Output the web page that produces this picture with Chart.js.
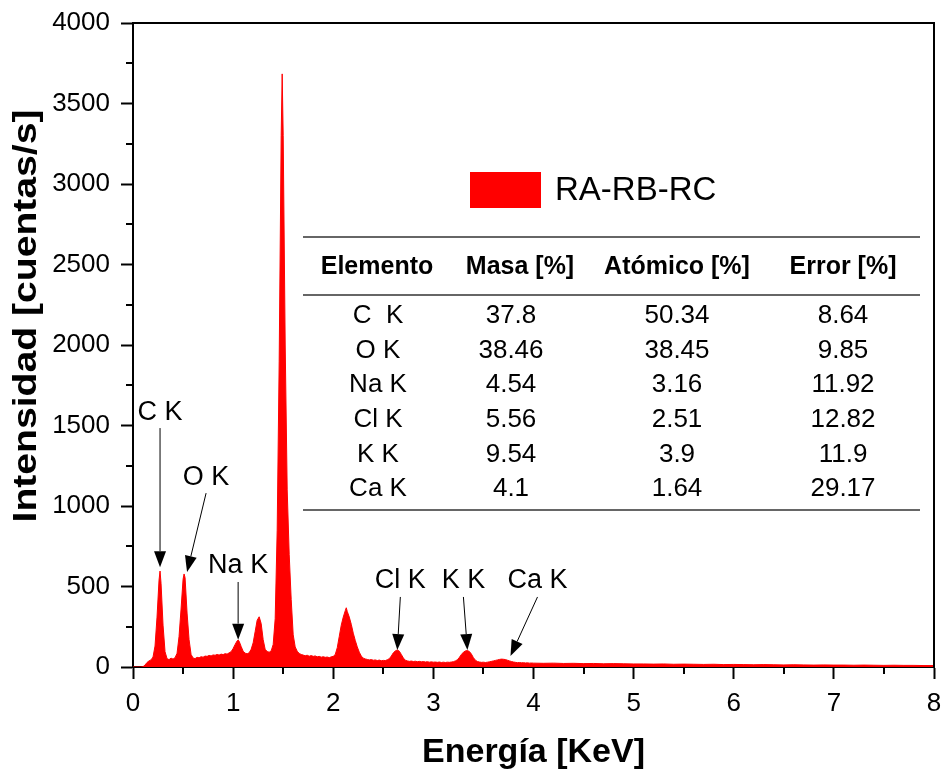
<!DOCTYPE html>
<html>
<head>
<meta charset="utf-8">
<script src="https://cdn.jsdelivr.net/npm/chart.js@4"></script>
<style>
  html, body { margin: 0; padding: 0; background: #fff; }
</style>
</head>
<body>
<canvas id="edsChart" width="943" height="770"></canvas>
<script>
// EDS spectrum (energy in keV, counts/s)
const energy = [
  0.00, 0.02, 0.04, 0.06, 0.08, 0.10, 0.12, 0.14, 0.16, 0.18,
  0.20, 0.22, 0.24, 0.26, 0.27, 0.28, 0.30, 0.32, 0.34, 0.36, 0.38,
  0.40, 0.42, 0.44, 0.46, 0.48, 0.50, 0.51, 0.52, 0.54, 0.56, 0.58,
  0.60, 0.62, 0.64, 0.66, 0.68, 0.70, 0.72, 0.74, 0.76, 0.78,
  0.80, 0.82, 0.84, 0.86, 0.88, 0.90, 0.92, 0.94, 0.96, 0.98,
  1.00, 1.02, 1.04, 1.05, 1.06, 1.08, 1.10, 1.12, 1.14, 1.16, 1.18,
  1.20, 1.22, 1.24, 1.26, 1.28, 1.30, 1.32, 1.34, 1.36, 1.38,
  1.40, 1.42, 1.44, 1.46, 1.48, 1.49, 1.50, 1.52, 1.54, 1.56, 1.58,
  1.60, 1.62, 1.64, 1.66, 1.68, 1.70, 1.72, 1.74, 1.76, 1.78,
  1.80, 1.82, 1.84, 1.86, 1.88, 1.90, 1.92, 1.94, 1.96, 1.98,
  2.00, 2.02, 2.04, 2.06, 2.08, 2.10, 2.12, 2.13, 2.14, 2.16, 2.18,
  2.20, 2.22, 2.24, 2.26, 2.28, 2.30, 2.32, 2.34, 2.36, 2.38,
  2.40, 2.42, 2.44, 2.46, 2.48, 2.50, 2.52, 2.54, 2.56, 2.58,
  2.60, 2.62, 2.64, 2.66, 2.68, 2.70, 2.72, 2.74, 2.76, 2.78,
  2.80, 2.82, 2.84, 2.86, 2.88, 2.90, 2.92, 2.94, 2.96, 2.98,
  3.00, 3.02, 3.04, 3.06, 3.08, 3.10, 3.12, 3.14, 3.16, 3.18,
  3.20, 3.22, 3.24, 3.26, 3.28, 3.30, 3.32, 3.34, 3.36, 3.38,
  3.40, 3.42, 3.44, 3.46, 3.48, 3.50, 3.52, 3.54, 3.56, 3.58,
  3.60, 3.62, 3.64, 3.66, 3.68, 3.70, 3.72, 3.74, 3.76, 3.78,
  3.80, 3.82, 3.84, 3.86, 3.88, 3.90, 3.92, 3.94, 3.96, 3.98,
  4.0, 4.1, 4.2, 4.3, 4.4, 4.5, 4.6, 4.7, 4.8, 4.9,
  5.0, 5.1, 5.2, 5.3, 5.4, 5.5, 5.6, 5.7, 5.8, 5.9,
  6.0, 6.1, 6.2, 6.3, 6.4, 6.5, 6.6, 6.7, 6.8, 6.9,
  7.0, 7.1, 7.2, 7.3, 7.4, 7.5, 7.6, 7.7, 7.8, 7.9, 8.0
];
const counts = [
  0, 0, 0, 0, 0, 2, 12, 28, 38, 44,
  62, 130, 310, 540, 596, 520, 260, 95, 52, 46, 55,
  49, 58, 85, 190, 360, 545, 578, 555, 335, 170, 78,
  56, 52, 60, 57, 64, 61, 68, 66, 72, 69,
  75, 73, 78, 74, 80, 77, 83, 80, 88, 95,
  115, 140, 162, 168, 160, 128, 98, 86, 82, 88, 110,
  150, 220, 290, 312, 270, 170, 110, 96, 92, 100,
  140, 300, 850, 1900, 3300, 3684, 3300, 2000, 1100, 700, 420,
  200, 125, 98, 84, 78, 74, 70, 73, 67, 71,
  66, 69, 63, 66, 61, 64, 60, 62, 58, 63,
  66, 78, 120, 190, 260, 310, 350, 368, 345, 310, 265,
  210, 165, 125, 92, 68, 55, 50, 47, 44, 46,
  42, 44, 40, 43, 39, 41, 40, 45, 52, 68,
  88, 100, 106, 98, 78, 56, 42, 38, 35, 37,
  34, 36, 33, 35, 32, 34, 31, 33, 30, 32,
  30, 31, 29, 31, 28, 30, 28, 30, 29, 31,
  33, 38, 45, 60, 78, 92, 100, 102, 96, 80,
  58, 42, 34, 31, 29, 30, 28, 30, 32, 35,
  38, 41, 44, 47, 49, 48, 46, 42, 38, 34,
  31, 29, 27, 28, 26, 27, 25, 26, 24, 25,
  24, 23, 24, 22, 23, 21, 22, 20, 21, 20,
  19, 19, 18, 19, 17, 18, 17, 16, 17, 15,
  16, 15, 14, 15, 14, 13, 14, 13, 12, 13,
  12, 12, 11, 12, 11, 10, 11, 10, 10, 9, 9
];

// peak labels: arrow tip and arrow tail in data units
const peakNames = ['C K', 'O K', 'Na K', 'Cl K', 'K K', 'Ca K'];
const tipKeV = [0.27, 0.54, 1.05, 2.64, 3.34, 3.77];
const tipCounts = [620, 590, 170, 105, 105, 68];
const tailKeV = [0.27, 0.73, 1.05, 2.67, 3.30, 4.04];
const tailCounts = [1484, 1080, 528, 435, 435, 435];

// composition table
const tableHeader = ['Elemento', 'Masa [%]', 'Atómico [%]', 'Error [%]'];
const elementos = ['C  K', 'O K', 'Na K', 'Cl K', 'K K', 'Ca K'];
const masa = ['37.8', '38.46', '4.54', '5.56', '9.54', '4.1'];
const atomico = ['50.34', '38.45', '3.16', '2.51', '3.9', '1.64'];
const errorPct = ['8.64', '9.85', '11.92', '12.82', '11.9', '29.17'];

const seriesName = 'RA-RB-RC';
const yTitle = 'Intensidad [cuentas/s]';
const FONT = "'Liberation Sans', Arial, sans-serif";

const overlay = {
  id: 'overlay',
  afterDraw(chart) {
    const ctx = chart.ctx;
    const xs = chart.scales.x, ys = chart.scales.y;
    const a = chart.chartArea;
    ctx.save();

    // top and right frame
    ctx.strokeStyle = '#000';
    ctx.lineWidth = 2;
    ctx.beginPath();
    ctx.moveTo(a.left - 1, a.top);
    ctx.lineTo(a.right, a.top);
    ctx.lineTo(a.right, a.bottom);
    ctx.stroke();

    // minor ticks
    ctx.beginPath();
    for (let v = 0.5; v < 8; v += 1) {
      const px = Math.round(xs.getPixelForValue(v));
      ctx.moveTo(px, a.bottom);
      ctx.lineTo(px, a.bottom + 7);
    }
    for (let v = 250; v < 4000; v += 500) {
      const py = Math.round(ys.getPixelForValue(v));
      ctx.moveTo(a.left, py);
      ctx.lineTo(a.left - 7, py);
    }
    ctx.stroke();

    // y axis title (slightly stretched like the original)
    ctx.save();
    ctx.translate(27, 316);
    ctx.rotate(-Math.PI / 2);
    ctx.scale(1.15, 1);
    ctx.fillStyle = '#000';
    ctx.font = 'bold 34px ' + FONT;
    ctx.textAlign = 'center';
    ctx.textBaseline = 'middle';
    ctx.fillText(yTitle, 0, 0);
    ctx.restore();

    // peak arrows
    ctx.lineWidth = 1;
    ctx.fillStyle = '#000';
    ctx.font = '27px ' + FONT;
    ctx.textAlign = 'center';
    ctx.textBaseline = 'middle';
    peakNames.forEach((name, i) => {
      const x0 = xs.getPixelForValue(tailKeV[i]), y0 = ys.getPixelForValue(tailCounts[i]);
      const x1 = xs.getPixelForValue(tipKeV[i]), y1 = ys.getPixelForValue(tipCounts[i]);
      const ang = Math.atan2(y1 - y0, x1 - x0);
      const hl = 16, hw = 6;
      const bx = x1 - hl * Math.cos(ang), by = y1 - hl * Math.sin(ang);
      ctx.beginPath();
      ctx.moveTo(x0, y0);
      ctx.lineTo(bx, by);
      ctx.stroke();
      ctx.beginPath();
      ctx.moveTo(x1, y1);
      ctx.lineTo(bx + hw * Math.sin(ang), by - hw * Math.cos(ang));
      ctx.lineTo(bx - hw * Math.sin(ang), by + hw * Math.cos(ang));
      ctx.closePath();
      ctx.fill();
      ctx.fillText(name, x0, y0 - 16);
    });

    // legend
    ctx.fillStyle = '#ff0000';
    ctx.fillRect(470, 172, 71, 36);
    ctx.fillStyle = '#000';
    ctx.textAlign = 'left';
    ctx.font = '33px ' + FONT;
    ctx.fillText(seriesName, 555, 191);

    // table
    const headCols = [377, 520, 677, 843];
    const cols = [378, 511, 677, 843];
    ctx.strokeStyle = '#333';
    ctx.lineWidth = 1.5;
    [237, 295, 510].forEach(y => {
      ctx.beginPath();
      ctx.moveTo(303, y);
      ctx.lineTo(920, y);
      ctx.stroke();
    });
    ctx.textAlign = 'center';
    ctx.font = 'bold 25px ' + FONT;
    tableHeader.forEach((h, j) => ctx.fillText(h, headCols[j], 267));
    ctx.font = '26px ' + FONT;
    elementos.forEach((el, i) => {
      const y = 316 + i * 34.6;
      [el, masa[i], atomico[i], errorPct[i]].forEach((t, j) => ctx.fillText(t, cols[j], y));
    });

    ctx.restore();
  }
};

const config = {
  type: 'line',
  data: {
    datasets: [{
      label: seriesName,
      data: energy.map((e, i) => ({ x: e, y: counts[i] })),
      borderColor: '#ff0000',
      backgroundColor: '#ff0000',
      borderWidth: 1,
      pointRadius: 0,
      fill: 'origin',
      tension: 0
    }]
  },
  options: {
    responsive: false,
    animation: false,
    layout: { padding: { top: 23, right: 9, left: 0, bottom: 0 } },
    plugins: { legend: { display: false }, tooltip: { enabled: false } },
    scales: {
      x: {
        type: 'linear', min: 0, max: 8,
        ticks: { stepSize: 1, color: '#000', font: { family: FONT, size: 26 }, padding: 9, maxRotation: 0,
                 callback: v => String(v) },
        grid: { drawOnChartArea: false, tickLength: 12, tickColor: '#000', tickWidth: 2 },
        border: { color: '#000', width: 2 },
        title: { display: true, text: 'Energía [KeV]', color: '#000', font: { family: FONT, size: 34, weight: 'bold' }, padding: { top: 0, bottom: -3 } },
        afterFit(s) { s.height = 103; s.paddingLeft = 0; s.paddingRight = 0; }
      },
      y: {
        min: 0, max: 4000,
        ticks: { stepSize: 500, color: '#000', font: { family: FONT, size: 26 }, padding: 11,
                 callback: v => String(v) },
        grid: { drawOnChartArea: false, tickLength: 12, tickColor: '#000', tickWidth: 2 },
        border: { color: '#000', width: 2 },
        title: { display: false },
        afterFit(s) { s.width = 133; s.paddingTop = 0; s.paddingBottom = 0; }
      }
    }
  },
  plugins: [overlay]
};

new Chart(document.getElementById('edsChart'), config);
</script>
</body>
</html>
